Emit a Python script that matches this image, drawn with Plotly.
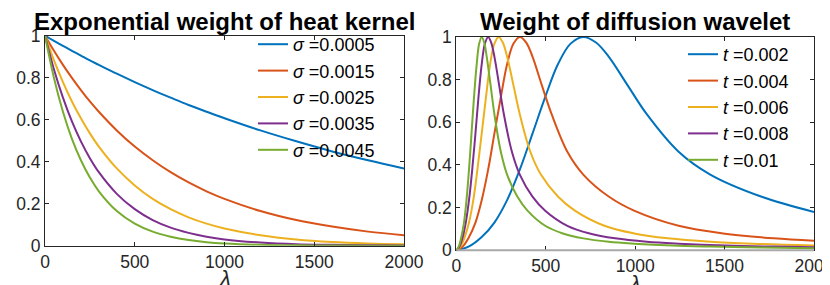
import plotly.graph_objects as go

# ---------------- data: left panel (heat kernel exponential weight) ----------------
SIGMA_LABELS = ["0.0005", "0.0015", "0.0025", "0.0035", "0.0045"]
LAM_LEFT = [0, 50, 100, 150, 200, 250, 300, 400, 500, 600, 700, 800, 900, 1000,
            1200, 1400, 1600, 1800, 2000]
HEAT_S1 = [1.0, 0.975, 0.951, 0.928, 0.905, 0.882, 0.861, 0.819, 0.779, 0.741, 0.705,
           0.670, 0.638, 0.607, 0.549, 0.497, 0.449, 0.407, 0.368]
HEAT_S2 = [1.0, 0.928, 0.861, 0.799, 0.741, 0.687, 0.638, 0.549, 0.472, 0.407, 0.350,
           0.301, 0.259, 0.223, 0.165, 0.122, 0.091, 0.067, 0.050]
HEAT_S3 = [1.0, 0.882, 0.779, 0.687, 0.607, 0.535, 0.472, 0.368, 0.287, 0.223, 0.174,
           0.135, 0.105, 0.082, 0.050, 0.030, 0.018, 0.011, 0.007]
HEAT_S4 = [1.0, 0.839, 0.705, 0.592, 0.497, 0.417, 0.350, 0.247, 0.174, 0.122, 0.086,
           0.061, 0.043, 0.030, 0.015, 0.007, 0.004, 0.002, 0.001]
HEAT_S5 = [1.0, 0.799, 0.638, 0.509, 0.407, 0.325, 0.259, 0.165, 0.105, 0.067, 0.043,
           0.027, 0.017, 0.011, 0.0045, 0.0018, 0.0007, 0.0003, 0.0001]

# ---------------- data: right panel (diffusion wavelet weight) ----------------
T_LABELS = ["0.002", "0.004", "0.006", "0.008", "0.01"]
LAM_T1 = [0, 71, 142, 213, 284, 355, 426, 497, 568, 639, 710, 781, 852, 959, 1065,
          1243, 1420, 1704, 2000]
WAV_T1 = [0, 0.018, 0.062, 0.13, 0.235, 0.378, 0.547, 0.718, 0.872, 0.969, 1.0, 0.974,
          0.908, 0.772, 0.638, 0.462, 0.355, 0.252, 0.18]
LAM_T2 = [0, 36, 71, 107, 142, 178, 213, 249, 284, 320, 355, 391, 426, 479, 533, 621,
          710, 852, 994, 1243, 1491, 1775, 2000]
WAV_T2 = [0, 0.018, 0.062, 0.13, 0.235, 0.378, 0.547, 0.718, 0.872, 0.969, 1.0, 0.974,
          0.908, 0.772, 0.638, 0.462, 0.355, 0.252, 0.186, 0.115, 0.079, 0.056, 0.045]
LAM_T3 = [0, 24, 47, 71, 95, 118, 142, 166, 189, 213, 237, 260, 284, 320, 355, 414,
          473, 568, 663, 828, 994, 1183, 1420, 1657, 2000]
WAV_T3 = [0, 0.018, 0.062, 0.13, 0.235, 0.378, 0.547, 0.718, 0.872, 0.969, 1.0, 0.974,
          0.908, 0.772, 0.638, 0.462, 0.355, 0.252, 0.186, 0.115, 0.079, 0.056, 0.040,
          0.031, 0.023]
LAM_T4 = [0, 18, 36, 53, 71, 89, 107, 124, 142, 160, 178, 195, 213, 240, 266, 311,
          355, 426, 497, 621, 746, 888, 1065, 1243, 1509, 1775, 2000]
WAV_T4 = [0, 0.018, 0.062, 0.13, 0.235, 0.378, 0.547, 0.718, 0.872, 0.969, 1.0, 0.974,
          0.908, 0.772, 0.638, 0.462, 0.355, 0.252, 0.186, 0.115, 0.079, 0.056, 0.040,
          0.031, 0.022, 0.0174, 0.0145]
LAM_T5 = [0, 14, 28, 43, 57, 71, 85, 99, 114, 128, 142, 156, 170, 192, 213, 249, 284,
          341, 398, 497, 596, 710, 852, 994, 1207, 1420, 1704, 2000]
WAV_T5 = [0, 0.018, 0.062, 0.13, 0.235, 0.378, 0.547, 0.718, 0.872, 0.969, 1.0, 0.974,
          0.908, 0.772, 0.638, 0.462, 0.355, 0.252, 0.186, 0.115, 0.079, 0.056, 0.040,
          0.031, 0.022, 0.0174, 0.0132, 0.010]

COLORS = ["#0072BD", "#D95319", "#EDB120", "#7E2F8E", "#77AC30"]
FONT = "Liberation Sans, Arial, Helvetica, sans-serif"

W, H = 830, 285

fig = go.Figure()

left_series = [HEAT_S1, HEAT_S2, HEAT_S3, HEAT_S4, HEAT_S5]
for i, (ys, lab) in enumerate(zip(left_series, SIGMA_LABELS)):
    fig.add_trace(go.Scatter(
        x=LAM_LEFT, y=ys, mode="lines", name="<i>σ</i> =" + lab,
        line=dict(color=COLORS[i], width=2, shape="spline", smoothing=1.0),
        xaxis="x", yaxis="y", legend="legend"))

right_x = [LAM_T1, LAM_T2, LAM_T3, LAM_T4, LAM_T5]
right_y = [WAV_T1, WAV_T2, WAV_T3, WAV_T4, WAV_T5]
for i, (xs, ys, lab) in enumerate(zip(right_x, right_y, T_LABELS)):
    fig.add_trace(go.Scatter(
        x=xs, y=ys, mode="lines", name="<i>t</i> =" + lab,
        line=dict(color=COLORS[i], width=2, shape="spline", smoothing=1.0),
        xaxis="x2", yaxis="y2", legend="legend2"))

axis_common = dict(
    showgrid=False, zeroline=False, showline=True, linecolor="#262626", linewidth=1,
    mirror="ticks", ticks="inside", ticklen=4, tickcolor="#262626", automargin=False,
    tickfont=dict(family=FONT, size=17.5, color="#262626"),
)

fig.update_layout(
    width=W, height=H,
    margin=dict(l=0, r=0, t=0, b=0, autoexpand=False),
    paper_bgcolor="white", plot_bgcolor="white",
    font=dict(family=FONT, color="#262626"),
    xaxis=dict(domain=[37 / W, 396 / W], range=[0, 2000], anchor="y",
               tickvals=[0, 500, 1000, 1500, 2000], **axis_common),
    yaxis=dict(domain=[(H - 237.7) / H, (H - 27.7) / H], range=[0, 1], anchor="x",
               tickvals=[0, 0.2, 0.4, 0.6, 0.8, 1],
               ticktext=["0", "0.2", "0.4", "0.6", "0.8", "1"], **axis_common),
    xaxis2=dict(domain=[448.3 / W, 806 / W], range=[0, 2000], anchor="y2",
                tickvals=[0, 500, 1000, 1500, 2000], **axis_common),
    yaxis2=dict(domain=[(H - 242.3) / H, (H - 29) / H], range=[0, 1], anchor="x2",
                tickvals=[0, 0.2, 0.4, 0.6, 0.8, 1],
                ticktext=["0", "0.2", "0.4", "0.6", "0.8", "1"], **axis_common),
    legend=dict(x=245 / W, y=(H - 18) / H, xanchor="left", yanchor="top",
                bgcolor="rgba(0,0,0,0)", borderwidth=0,
                font=dict(family=FONT, size=18, color="#000000")),
    legend2=dict(x=675 / W, y=(H - 28) / H, xanchor="left", yanchor="top",
                 bgcolor="rgba(0,0,0,0)", borderwidth=0,
                 font=dict(family=FONT, size=18, color="#000000")),
    shapes=[
        dict(type="line", xref="x2 domain", yref="y2 domain", x0=0, x1=1, y0=0, y1=0,
             line=dict(color="#a8a8a8", width=2), layer="above"),
    ],
    annotations=[
        dict(text="<b>Exponential weight of heat kernel</b>", x=(37 + 396) / 2 / W,
             y=(H - 13) / H, xref="paper", yref="paper", showarrow=False,
             xanchor="center", yanchor="middle",
             font=dict(family=FONT, size=24, color="#000000")),
        dict(text="<b>Weight of diffusion wavelet</b>", x=(448.3 + 806) / 2 / W,
             y=(H - 13) / H, xref="paper", yref="paper", showarrow=False,
             xanchor="center", yanchor="middle",
             font=dict(family=FONT, size=24, color="#000000")),
        dict(text="<i>λ</i>", x=(37 + 396) / 2 / W, y=(H - 256) / H,
             xref="paper", yref="paper", showarrow=False,
             xanchor="center", yanchor="top",
             font=dict(family=FONT, size=22, color="#262626")),
        dict(text="<i>λ</i>", x=(448.3 + 806) / 2 / W, y=(H - 261) / H,
             xref="paper", yref="paper", showarrow=False,
             xanchor="center", yanchor="top",
             font=dict(family=FONT, size=22, color="#262626")),
    ],
)

fig.write_html("out.html")
